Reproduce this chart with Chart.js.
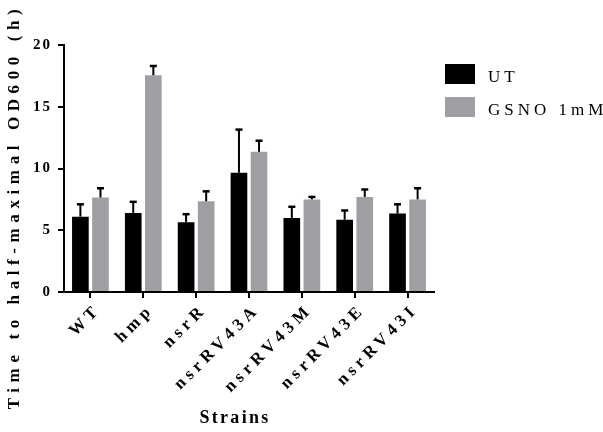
<!DOCTYPE html>
<html>
<head>
<meta charset="utf-8">
<script src="https://cdn.jsdelivr.net/npm/chart.js@4.4.1/dist/chart.umd.min.js"></script>
<style>
  html, body { margin: 0; padding: 0; background: #fff; }
  #wrap { width: 603px; height: 432px; }
</style>
</head>
<body>
<div id="wrap"><canvas id="c" width="603" height="432"></canvas></div>
<script>
// Strains and time to half-maximal OD600 (mean and upper error, hours)
const strains = ['WT', 'hmp', 'nsrR', 'nsrRV43A', 'nsrRV43M', 'nsrRV43E', 'nsrRV43I'];
const utMean = [6.1, 6.4, 5.65, 9.65, 6.0, 5.85, 6.35];
const utError = [1.0, 0.9, 0.65, 3.5, 0.9, 0.75, 0.75];
const gsnoMean = [7.65, 17.55, 7.35, 11.35, 7.5, 7.7, 7.5];
const gsnoError = [0.75, 0.75, 0.8, 0.9, 0.2, 0.6, 0.9];
const yTicks = [0, 5, 10, 15, 20];

const SERIF = "'Liberation Serif', 'Times New Roman', serif";

// run a draw method with extra letter spacing and an optional shift
function spaced(fn, spacing, dx = 0, dy = 0) {
  return function (...args) {
    const ctx = this.ctx;
    ctx.save();
    ctx.letterSpacing = spacing;
    ctx.translate(dx, dy);
    fn.apply(this, args);
    ctx.restore();
  };
}

const textStyle = {
  id: 'textStyle',
  beforeDraw(chart) {
    const { x, y } = chart.scales;
    if (!x._styled) {
      x.drawLabels = spaced(x.drawLabels, '4.5px', 8, 0);
      x.drawTitle = spaced(x.drawTitle, '2.3px', -14, 0);
      x._styled = true;
    }
    if (!y._styled) {
      y.drawLabels = spaced(y.drawLabels, '2px');
      y.drawTitle = spaced(y.drawTitle, '5.6px', 0, 38);
      y._styled = true;
    }
  }
};

// upward error bars with caps
const errorBars = {
  id: 'errorBars',
  afterDatasetsDraw(chart) {
    const { ctx } = chart;
    const yScale = chart.scales.y;
    chart.data.datasets.forEach((ds, di) => {
      const meta = chart.getDatasetMeta(di);
      if (meta.hidden) return;
      meta.data.forEach((bar, i) => {
        const top = yScale.getPixelForValue(ds.data[i] + ds.errors[i]);
        ctx.save();
        ctx.strokeStyle = '#000';
        ctx.lineWidth = 2;
        ctx.beginPath();
        ctx.moveTo(bar.x, bar.y);
        ctx.lineTo(bar.x, top);
        ctx.stroke();
        ctx.lineWidth = 2.5;
        ctx.beginPath();
        ctx.moveTo(bar.x - 3.5, top);
        ctx.lineTo(bar.x + 3.5, top);
        ctx.stroke();
        ctx.restore();
      });
    });
  }
};

// legend in the right margin
const sideLegend = {
  id: 'sideLegend',
  afterDraw(chart) {
    const { ctx } = chart;
    chart.data.datasets.forEach((ds, i) => {
      const top = 64 + i * 33;
      ctx.save();
      ctx.fillStyle = ds.backgroundColor;
      ctx.fillRect(445, top, 30, 20);
      ctx.fillStyle = '#000';
      ctx.font = '17px ' + SERIF;
      ctx.letterSpacing = '4px';
      ctx.textAlign = 'left';
      ctx.textBaseline = 'alphabetic';
      ctx.fillText(ds.label, 488, top + 17.5);
      ctx.restore();
    });
  }
};

new Chart(document.getElementById('c'), {
  type: 'bar',
  data: {
    labels: strains,
    datasets: [
      { label: 'UT', data: utMean, errors: utError, backgroundColor: '#000000' },
      { label: 'GSNO 1mM', data: gsnoMean, errors: gsnoError, backgroundColor: '#9f9ea3' }
    ]
  },
  options: {
    responsive: false,
    animation: false,
    devicePixelRatio: 1,
    categoryPercentage: 0.76,
    barPercentage: 0.83,
    layout: { padding: { top: 45, right: 169, left: 0, bottom: 0 } },
    plugins: {
      legend: { display: false },
      tooltip: { enabled: false }
    },
    scales: {
      x: {
        grid: {
          offset: false,
          drawOnChartArea: false,
          drawTicks: true,
          tickLength: 6,
          color: '#000',
          lineWidth: 2
        },
        border: { display: true, color: '#000', width: 2 },
        ticks: {
          autoSkip: false,
          minRotation: 45,
          maxRotation: 45,
          padding: 2,
          color: '#000',
          font: { family: SERIF, size: 17, weight: 'bold' }
        },
        title: {
          display: true,
          text: 'Strains',
          color: '#000',
          padding: { top: 0, bottom: 3 },
          font: { family: SERIF, size: 18, weight: 'bold' }
        },
        afterFit(scale) { scale.height = 140; }
      },
      y: {
        min: 0,
        max: 20,
        afterBuildTicks(scale) { scale.ticks = yTicks.map(v => ({ value: v })); },
        grid: {
          drawOnChartArea: false,
          drawTicks: true,
          tickLength: 6,
          color: '#000',
          lineWidth: 2
        },
        border: { display: true, color: '#000', width: 2 },
        ticks: {
          padding: 6,
          color: '#000',
          font: { family: SERIF, size: 15, weight: 'bold' }
        },
        title: {
          display: true,
          text: 'Time to half-maximal OD600 (h)',
          color: '#000',
          padding: { top: 4, bottom: 0 },
          font: { family: SERIF, size: 17, weight: 'bold' }
        },
        afterFit(scale) { scale.width = 64; }
      }
    }
  },
  plugins: [textStyle, errorBars, sideLegend]
});
</script>
</body>
</html>
